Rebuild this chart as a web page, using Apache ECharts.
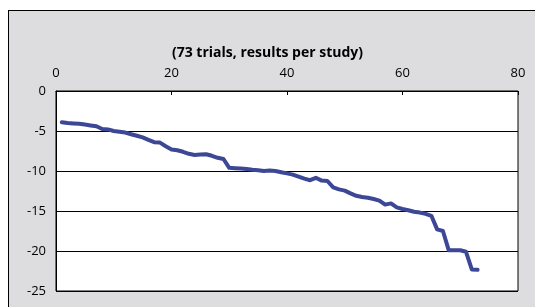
<!DOCTYPE html>
<html>
<head>
<meta charset="utf-8">
<script src="https://cdn.jsdelivr.net/npm/echarts@6/dist/echarts.min.js"></script>
<style>
    html, body { margin: 0; padding: 0; background: #ffffff; }
    #wrap { position: relative; width: 535px; height: 307px; overflow: hidden; }
    #frame {
        position: absolute; left: 8px; top: 10px; width: 540px; height: 310px;
        background: #dddddf; border: 1px solid #000;
    }
    #main { position: absolute; left: 0; top: 0; width: 535px; height: 307px; }
</style>
</head>
<body>
<div id="wrap">
    <div id="frame"></div>
    <div id="main"></div>
</div>
<script>
    // study index 1..73 and the result per study
    var studies = [];
    for (var s = 1; s <= 73; s++) { studies.push(s); }
    var results = [
        -3.9, -4.0, -4.05, -4.1, -4.2, -4.3, -4.4, -4.75, -4.8, -5.0,
        -5.1, -5.2, -5.4, -5.6, -5.8, -6.1, -6.4, -6.45, -6.9, -7.3,
        -7.4, -7.6, -7.85, -8.0, -7.95, -7.9, -8.1, -8.35, -8.5, -9.6,
        -9.65, -9.7, -9.75, -9.85, -9.9, -10.0, -9.95, -10.0, -10.15, -10.3,
        -10.45, -10.7, -10.95, -11.15, -10.85, -11.2, -11.25, -12.05, -12.3, -12.45,
        -12.8, -13.1, -13.25, -13.35, -13.5, -13.7, -14.2, -14.05, -14.55, -14.75,
        -14.9, -15.1, -15.2, -15.35, -15.6, -17.3, -17.5, -19.9, -19.9, -19.9,
        -20.1, -22.3, -22.35
    ];
    var xTicks = [0, 20, 40, 60, 80];
    var yTicks = [-25, -20, -15, -10, -5, 0];
    var titleText = '(73 trials, results per study)';

    var points = studies.map(function (x, i) { return [x, results[i]]; });

    var chart = echarts.init(document.getElementById('main'), null, {renderer: 'canvas'});
    chart.setOption({
        animation: false,
        textStyle: { fontFamily: 'Open Sans', color: '#000' },
        title: {
            text: titleText,
            left: 'center',
            top: 41,
            textStyle: { fontFamily: 'Open Sans', fontWeight: 'bold', fontSize: 14, color: '#000' }
        },
        grid: {
            left: 56, top: 91, width: 462, height: 200,
            show: true, backgroundColor: '#ffffff', borderColor: '#000', borderWidth: 1
        },
        xAxis: {
            type: 'value',
            position: 'top',
            min: xTicks[0], max: xTicks[xTicks.length - 1], interval: 20,
            axisLine: { show: true, lineStyle: { color: '#000', width: 1 } },
            axisTick: { show: true, inside: true, length: 4, lineStyle: { color: '#000' } },
            axisLabel: { margin: 11, fontSize: 13, color: '#000' },
            splitLine: { show: false }
        },
        yAxis: {
            type: 'value',
            min: yTicks[0], max: yTicks[yTicks.length - 1], interval: 5,
            axisLine: { show: true, lineStyle: { color: '#000', width: 1 } },
            axisTick: { show: false },
            axisLabel: { margin: 10, fontSize: 13, color: '#000' },
            splitLine: { show: true, lineStyle: { color: '#000', width: 1 } }
        },
        series: [{
            type: 'line',
            data: points,
            showSymbol: false,
            lineStyle: { color: '#3c4796', width: 4, join: 'round', cap: 'round' }
        }]
    });
</script>
</body>
</html>
